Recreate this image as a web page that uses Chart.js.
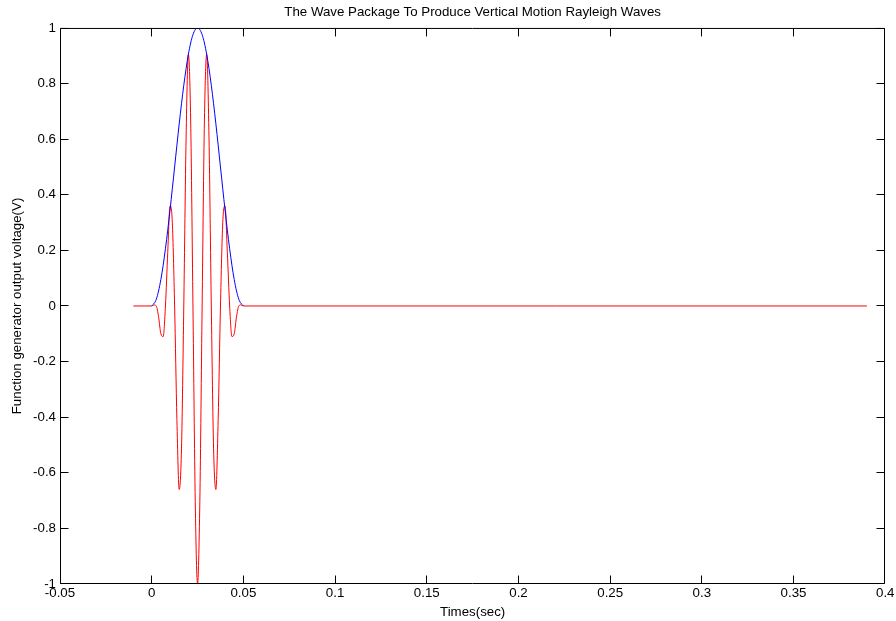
<!DOCTYPE html>
<html>
<head>
<meta charset="utf-8">
<title>The Wave Package To Produce Vertical Motion Rayleigh Waves</title>
<script src="https://cdn.jsdelivr.net/npm/chart.js@4.4.1/dist/chart.umd.min.js"></script>
<style>
  html, body { margin: 0; padding: 0; background: #fff; }
  canvas { display: block; }
</style>
</head>
<body>
<canvas id="wave-chart" width="896" height="621"></canvas>
<script>
// burst signal (red): flat before/after, 5 cycles inside 0..0.05 s
const burstTimes = [-0.01,
  0, 0.00125, 0.0025, 0.00375, 0.005, 0.00625, 0.0075, 0.00875, 0.01, 0.01125,
  0.0125, 0.01375, 0.015, 0.01625, 0.0175, 0.01875, 0.02, 0.02125, 0.0225, 0.02375,
  0.025, 0.02625, 0.0275, 0.02875, 0.03, 0.03125, 0.0325, 0.03375, 0.035, 0.03625,
  0.0375, 0.03875, 0.04, 0.04125, 0.0425, 0.04375, 0.045, 0.04625, 0.0475, 0.04875,
  0.05, 0.39];
const burstVolts = [0,
  0, 0.004, 0, -0.039, -0.1, -0.11, 0, 0.193, 0.36, 0.3,
  0, -0.409, -0.66, -0.514, 0, 0.604, 0.905, 0.669, 0, -0.703,
  -1, -0.703, 0, 0.669, 0.905, 0.604, 0, -0.514, -0.66, -0.409,
  0, 0.3, 0.36, 0.193, 0, -0.11, -0.1, -0.039, 0, 0.004,
  0, 0];

// envelope (blue)
const envTimes = [0, 0.0025, 0.005, 0.0075, 0.01, 0.0125, 0.015, 0.0175, 0.02, 0.0225,
  0.025, 0.0275, 0.03, 0.0325, 0.035, 0.0375, 0.04, 0.0425, 0.045, 0.0475, 0.05];
const envVolts = [0, 0.024, 0.095, 0.206, 0.345, 0.5, 0.655, 0.794, 0.905, 0.976,
  1, 0.976, 0.905, 0.794, 0.655, 0.5, 0.345, 0.206, 0.095, 0.024, 0];

const xTickValues = [-0.05, 0, 0.05, 0.1, 0.15, 0.2, 0.25, 0.3, 0.35, 0.4];
const xTickLabels = ['-0.05', '0', '0.05', '0.1', '0.15', '0.2', '0.25', '0.3', '0.35', '0.4'];
const yTickValues = [-1, -0.8, -0.6, -0.4, -0.2, 0, 0.2, 0.4, 0.6, 0.8, 1];
const yTickLabels = ['-1', '-0.8', '-0.6', '-0.4', '-0.2', '0', '0.2', '0.4', '0.6', '0.8', '1'];

const font = { family: '"Liberation Sans", Arial, sans-serif', size: 13.3, weight: 'normal' };

// matlab style box with inward ticks on all four sides
const frame = {
  id: 'frame',
  afterDatasetsDraw(chart) {
    const { ctx, chartArea: a, scales: { x, y } } = chart;
    const len = 8;
    const L = a.left + 0.5, R = Math.round(a.right) - 0.5;
    const T = a.top + 0.5, B = Math.round(a.bottom) - 0.5;
    ctx.save();
    ctx.strokeStyle = '#000';
    ctx.lineWidth = 1;
    ctx.beginPath();
    xTickValues.forEach(v => {
      const px = Math.min(Math.max(Math.floor(x.getPixelForValue(v)) + 0.5, L), R);
      ctx.moveTo(px, B); ctx.lineTo(px, B - len);
      ctx.moveTo(px, T); ctx.lineTo(px, T + len);
    });
    yTickValues.forEach(v => {
      const py = Math.min(Math.max(Math.floor(y.getPixelForValue(v)) + 0.5, T), B);
      ctx.moveTo(L, py); ctx.lineTo(L + len, py);
      ctx.moveTo(R, py); ctx.lineTo(R - len, py);
    });
    ctx.moveTo(L, T); ctx.lineTo(R, T); ctx.lineTo(R, B); ctx.lineTo(L, B); ctx.closePath();
    ctx.stroke();
    ctx.restore();
  }
};

function main() {
  const canvas = document.querySelector('#wave-chart');

  new Chart(canvas.getContext('2d'), {
    type: 'line',
    data: {
      datasets: [
        {
          label: 'envelope',
          data: envTimes.map((t, i) => ({ x: t, y: envVolts[i] })),
          borderColor: '#0000ff',
          borderWidth: 1,
          pointRadius: 0,
          cubicInterpolationMode: 'monotone',
          order: 0
        },
        {
          label: 'burst',
          data: burstTimes.map((t, i) => ({ x: t, y: burstVolts[i] })),
          borderColor: '#ff0000',
          borderWidth: 1,
          pointRadius: 0,
          cubicInterpolationMode: 'monotone',
          order: 1
        }
      ]
    },
    options: {
      responsive: false,
      animation: false,
      devicePixelRatio: 1,
      layout: { padding: { left: 0, right: 10, top: 0, bottom: 0 } },
      plugins: {
        legend: { display: false },
        tooltip: { enabled: false },
        title: {
          display: true,
          fullSize: false,
          text: 'The Wave Package To Produce Vertical Motion Rayleigh Waves',
          color: '#000',
          font: font,
          padding: { top: 4, bottom: 8 }
        }
      },
      scales: {
        x: {
          type: 'linear',
          min: -0.05,
          max: 0.4,
          afterBuildTicks: s => { s.ticks = xTickValues.map(v => ({ value: v })); },
          afterFit: s => { s.height = 37; },
          grid: { display: false, drawTicks: false },
          border: { display: false },
          ticks: {
            color: '#000', font: font, padding: 1.5,
            autoSkip: false, maxRotation: 0,
            callback: (v, i) => xTickLabels[i]
          },
          title: { display: true, text: 'Times(sec)', color: '#000', font: font, padding: { top: 0, bottom: 1 } }
        },
        y: {
          type: 'linear',
          min: -1,
          max: 1,
          afterBuildTicks: s => { s.ticks = yTickValues.map(v => ({ value: v })); },
          afterFit: s => { s.width = 60; },
          grid: { display: false, drawTicks: false },
          border: { display: false },
          ticks: {
            color: '#000', font: font, padding: 4,
            autoSkip: false,
            callback: (v, i) => yTickLabels[i]
          },
          title: { display: true, text: 'Function generator output voltage(V)', color: '#000', font: font, padding: { top: 9, bottom: 0 } }
        }
      }
    },
    plugins: [frame]
  });
}

main();
</script>
</body>
</html>
